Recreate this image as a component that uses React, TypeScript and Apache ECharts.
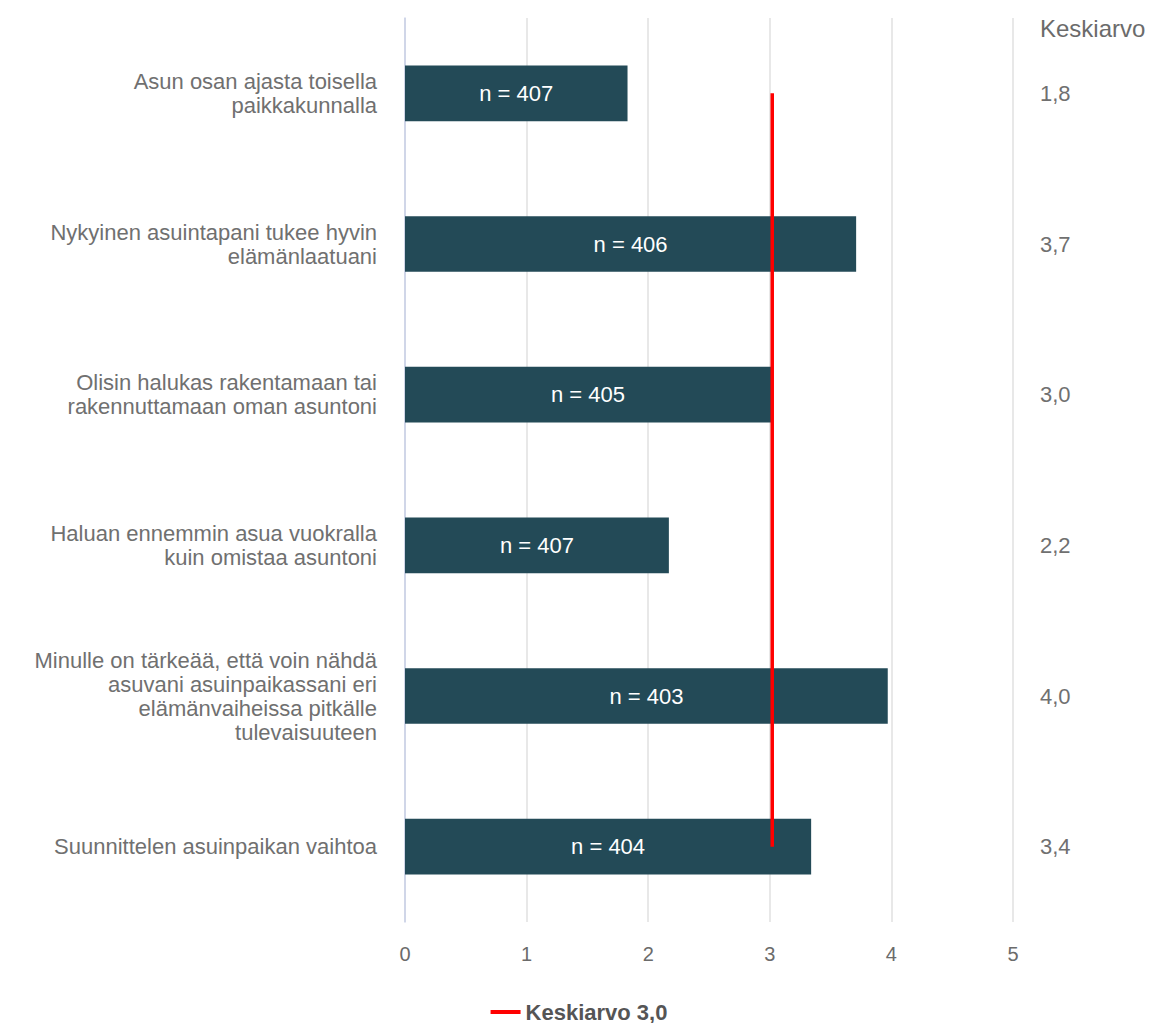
import React, { useEffect, useRef } from "react";
import * as echarts from "echarts";

const categories = [
  "Asun osan ajasta toisella\npaikkakunnalla",
  "Nykyinen asuintapani tukee hyvin\nelämänlaatuani",
  "Olisin halukas rakentamaan tai\nrakennuttamaan oman asuntoni",
  "Haluan ennemmin asua vuokralla\nkuin omistaa asuntoni",
  "Minulle on tärkeää, että voin nähdä\nasuvani asuinpaikassani eri\nelämänvaiheissa pitkälle\ntulevaisuuteen",
  "Suunnittelen asuinpaikan vaihtoa",
];
const means = [1.83, 3.71, 3.01, 2.17, 3.97, 3.34];
const meanLabels = ["1,8", "3,7", "3,0", "2,2", "4,0", "3,4"];
const counts = [407, 406, 405, 407, 403, 404];
const overallMean = [3.02, 3.02, 3.02, 3.02, 3.02, 3.02];
const overallName = "Keskiarvo 3,0";
const rightHeader = "Keskiarvo";
const xTicks = [0, 1, 2, 3, 4, 5];

export default function App() {
  const ref = useRef<HTMLDivElement>(null);
  useEffect(() => {
    const chart = echarts.init(ref.current!, null, { renderer: "svg" });
    const font = "Arial, 'Liberation Sans', sans-serif";
    chart.setOption({
      animation: false,
      textStyle: { fontFamily: font },
      grid: { left: 397, right: 137, top: 10, bottom: 101, containLabel: false },
      legend: {
        top: 988,
        left: "center",
        itemWidth: 30,
        itemHeight: 4,
        itemGap: 10,
        textStyle: { fontSize: 22, lineHeight: 22, fontWeight: "bold", color: "#555", fontFamily: font },
        data: [{ name: overallName, icon: "rect" }],
      },
      xAxis: {
        type: "value",
        min: xTicks[0],
        max: xTicks[xTicks.length - 1],
        interval: 1,
        axisLine: { show: false },
        axisTick: { show: false },
        splitLine: { show: true, lineStyle: { color: "#e0e0e0", width: 1.5 } },
        axisLabel: { color: "#6b6b6b", fontSize: 20, margin: 22, fontFamily: font },
      },
      yAxis: [
        {
          type: "category",
          data: categories,
          inverse: true,
          axisLine: { show: true, lineStyle: { color: "#c9d0e8", width: 1.5 } },
          axisTick: { show: false },
          axisLabel: {
            color: "#707070",
            fontSize: 22,
            lineHeight: 24,
            margin: 28,
            align: "right",
            fontFamily: font,
          },
        },
        {
          type: "category",
          data: meanLabels,
          inverse: true,
          position: "right",
          axisLine: { show: false },
          axisTick: { show: false },
          axisLabel: { color: "#707070", fontSize: 22, margin: 27, align: "left", fontFamily: font },
        },
      ],
      graphic: [
        {
          type: "text",
          left: 1032,
          top: 8,
          style: { text: rightHeader, fill: "#6b6b6b", font: `24px ${font}` },
        },
      ],
      series: [
        {
          type: "bar",
          data: means,
          barWidth: "37%",
          itemStyle: { color: "#234a57" },
          label: {
            show: true,
            position: "inside",
            color: "#fff",
            fontSize: 22,
            fontFamily: font,
            formatter: (p: any) => `n = ${counts[p.dataIndex]}`,
          },
          z: 2,
        },
        {
          type: "line",
          name: overallName,
          data: overallMean,
          symbol: "none",
          lineStyle: { color: "#ff0000", width: 3.5 },
          itemStyle: { color: "#ff0000" },
          z: 5,
        },
      ],
    });
    return () => chart.dispose();
  }, []);
  return <div ref={ref} style={{ width: 1142, height: 1015 }} />;
}
